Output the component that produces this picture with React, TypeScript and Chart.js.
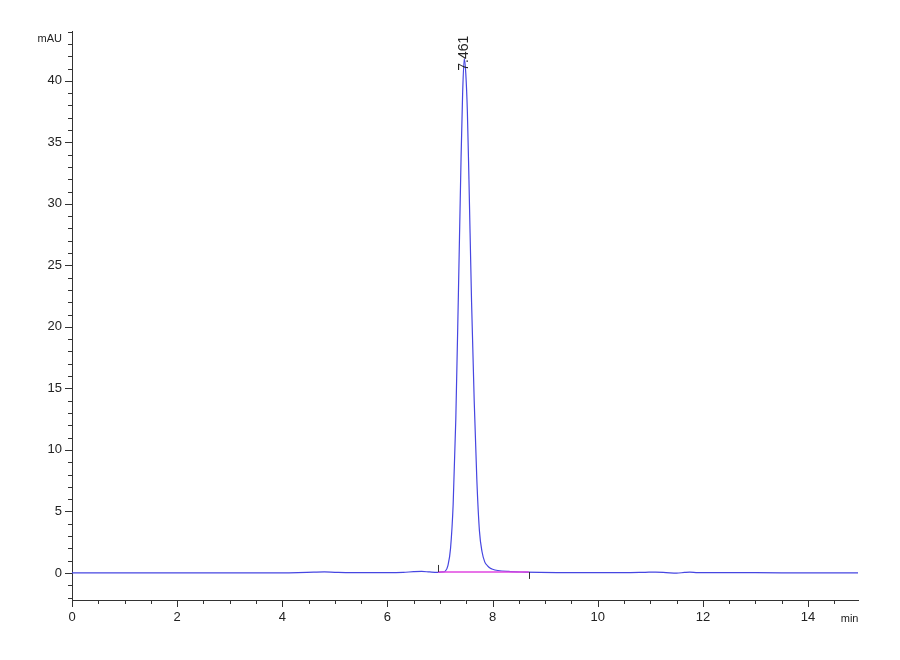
import React, { useEffect, useRef } from "react";
import { Chart, registerables } from "chart.js";

Chart.register(...registerables);

// Retention time (min) and absorbance (mAU) of the chromatogram trace
const times = [
  0, 1, 2, 2.5, 3, 3.5, 4.0, 4.3, 4.6, 4.8, 5.0, 5.3, 5.6, 6.0, 6.3, 6.5, 6.65, 6.8, 6.95,
  7.05, 7.1, 7.15, 7.2, 7.25, 7.3, 7.35, 7.4, 7.43, 7.461, 7.49, 7.52, 7.55, 7.6, 7.65,
  7.7, 7.75, 7.8, 7.85, 7.9, 7.95, 8.0, 8.1, 8.3, 8.6, 8.9, 9.3, 10.0, 10.5, 10.9, 11.1,
  11.3, 11.5, 11.65, 11.75, 11.9, 12.3, 13.0, 14.0, 14.95,
];
const signal = [
  0, 0, 0, 0, 0, 0, 0, 0.02, 0.06, 0.08, 0.05, 0.02, 0.03, 0.03, 0.05, 0.1, 0.12, 0.08, 0.05,
  0.08, 0.15, 0.6, 2.0, 5.6, 12.5, 22.8, 33.7, 39.0, 41.8, 40.6, 37.5, 32.0, 22.0, 14.0,
  7.6, 3.4, 1.7, 0.9, 0.6, 0.4, 0.3, 0.2, 0.12, 0.07, 0.04, 0.03, 0.02, 0.02, 0.05, 0.07,
  0.03, -0.02, 0.04, 0.07, 0.02, 0.02, 0.02, 0.0, 0.0,
];

// Integration baseline of the peak
const baselineTimes = [6.96, 8.69];
const baselineValues = [0.08, 0.08];

// Peak annotation
const peakTime = 7.461;
const peakValue = 41.8;
const peakLabel = "7.461";

// Axes
const xTickLabels = [0, 2, 4, 6, 8, 10, 12, 14];
const yTickLabels = [0, 5, 10, 15, 20, 25, 30, 35, 40];
const xMin = 0;
const xMax = 14.95;
const yMin = -2.2;
const yMax = 44.05;
const xMinorStep = 0.5;
const yMinorStep = 1;
const xUnit = "min";
const yUnit = "mAU";
const xUnitPos = 14.79;
const yUnitPos = 43.37;

const AXIS_COLOR = "#333333";
const FONT = "'Liberation Sans', Arial, sans-serif";

const ticksPlugin = {
  id: "chromTicks",
  afterDraw(chart: any) {
    const ctx = chart.ctx;
    const xs = chart.scales.x;
    const ys = chart.scales.y;
    const area = chart.chartArea;
    ctx.save();
    ctx.strokeStyle = AXIS_COLOR;
    ctx.lineWidth = 1;
    ctx.beginPath();
    // y ticks
    for (let i = Math.ceil(yMin / yMinorStep); i * yMinorStep <= yMax + 1e-9; i++) {
      const v = i * yMinorStep;
      const py = Math.round(ys.getPixelForValue(v)) + 0.5;
      const major = Math.abs(v % 5) < 1e-9;
      const len = major ? 7 : 4;
      ctx.moveTo(area.left - len, py);
      ctx.lineTo(area.left, py);
    }
    // x ticks
    for (let i = Math.ceil(xMin / xMinorStep); i * xMinorStep <= xMax + 1e-9; i++) {
      const v = i * xMinorStep;
      const px = Math.round(xs.getPixelForValue(v)) + 0.5;
      const major = Math.abs(v % 2) < 1e-9;
      const len = major ? 7 : 4;
      ctx.moveTo(px, area.bottom);
      ctx.lineTo(px, area.bottom + len);
    }
    // integration markers
    const sx = Math.round(xs.getPixelForValue(baselineTimes[0])) + 0.5;
    const sy = ys.getPixelForValue(baselineValues[0]);
    ctx.moveTo(sx, sy);
    ctx.lineTo(sx, sy - 7);
    const ex = Math.round(xs.getPixelForValue(baselineTimes[1])) + 0.5;
    const ey = ys.getPixelForValue(baselineValues[1]);
    ctx.moveTo(ex, ey);
    ctx.lineTo(ex, ey + 7);
    ctx.stroke();

    // unit labels
    ctx.fillStyle = "#222";
    ctx.font = `11px ${FONT}`;
    ctx.textAlign = "right";
    ctx.textBaseline = "middle";
    ctx.fillText(yUnit, area.left - 10, ys.getPixelForValue(yUnitPos));
    ctx.textAlign = "center";
    ctx.textBaseline = "alphabetic";
    ctx.fillText(xUnit, xs.getPixelForValue(xUnitPos), area.bottom + 22);

    // peak label (rotated)
    ctx.translate(xs.getPixelForValue(peakTime), ys.getPixelForValue(peakValue) + 12);
    ctx.rotate(-Math.PI / 2);
    ctx.font = `14px ${FONT}`;
    ctx.textAlign = "left";
    ctx.textBaseline = "middle";
    ctx.fillText(peakLabel, 0, 0);
    ctx.restore();
  },
};

export default function App() {
  const ref = useRef<HTMLCanvasElement | null>(null);

  useEffect(() => {
    if (!ref.current) return;
    const trace = times.map((t, i) => ({ x: t, y: signal[i] }));
    const base = baselineTimes.map((t, i) => ({ x: t, y: baselineValues[i] }));
    const chart = new Chart(ref.current, {
      type: "line",
      data: {
        datasets: [
          {
            data: base,
            borderColor: "rgb(225,70,225)",
            borderWidth: 1.6,
            pointRadius: 0,
          },
          {
            data: trace,
            borderColor: "rgb(70,70,225)",
            borderWidth: 1.2,
            pointRadius: 0,
            cubicInterpolationMode: "monotone",
          },
        ],
      },
      options: {
        animation: false,
        responsive: true,
        maintainAspectRatio: false,
        layout: { padding: { top: 31, right: 42, left: 0, bottom: 0 } },
        plugins: { legend: { display: false }, tooltip: { enabled: false } },
        scales: {
          x: {
            type: "linear",
            min: xMin,
            max: xMax,
            grid: { display: false, drawTicks: false },
            border: { display: true, color: AXIS_COLOR, width: 1 },
            afterBuildTicks: (s: any) => {
              s.ticks = xTickLabels.map((v) => ({ value: v }));
            },
            afterFit: (s: any) => {
              s.height = 60;
            },
            ticks: {
              padding: 10,
              color: "#222",
              font: { family: FONT, size: 13 },
              maxRotation: 0,
              autoSkip: false,
              callback: (v: any) => String(v),
            },
          },
          y: {
            type: "linear",
            min: yMin,
            max: yMax,
            grid: { display: false, drawTicks: false },
            border: { display: true, color: AXIS_COLOR, width: 1 },
            afterBuildTicks: (s: any) => {
              s.ticks = yTickLabels.map((v) => ({ value: v }));
            },
            afterFit: (s: any) => {
              s.width = 72;
            },
            ticks: {
              padding: 10,
              color: "#222",
              font: { family: FONT, size: 13 },
              autoSkip: false,
              callback: (v: any) => String(v),
            },
          },
        },
      },
      plugins: [ticksPlugin],
    });
    return () => chart.destroy();
  }, []);

  return (
    <div
      style={{
        position: "fixed",
        left: 0,
        top: 0,
        width: 900,
        height: 660,
        background: "#fff",
      }}
    >
      <canvas ref={ref} />
    </div>
  );
}
